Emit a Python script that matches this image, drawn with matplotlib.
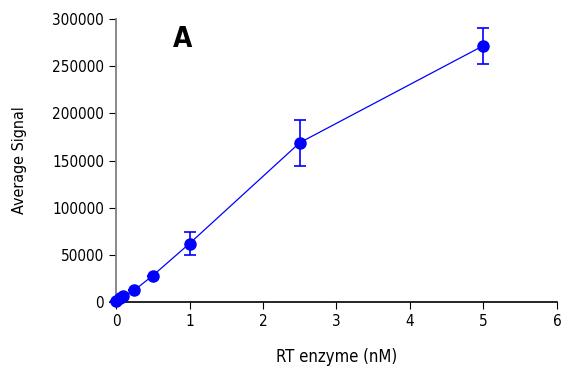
import matplotlib.pyplot as plt
import numpy as np

# RT enzyme concentration (nM) vs average signal
conc = [0, 0.05, 0.1, 0.25, 0.5, 1, 2.5, 5]
signal = [1500, 4500, 6000, 12500, 28000, 62000, 169000, 272000]
err = [0, 0, 0, 0, 0, 12500, 24500, 19000]

xticks = [0, 1, 2, 3, 4, 5, 6]
yticks = [0, 50000, 100000, 150000, 200000, 250000, 300000]

plt.rcParams['font.family'] = ['DejaVu Sans']
plt.rcParams['font.stretch'] = 'condensed'

fig = plt.figure(figsize=(5.61, 3.75), dpi=100)
ax = fig.add_axes([0.2068, 0.1947, 0.786, 0.754])

ax.errorbar(conc, signal, yerr=err, color='#0000ff', marker='o', markersize=8,
            linewidth=0.9, elinewidth=1.2, capsize=4, capthick=1.2, clip_on=False, zorder=3)

ax.set_xlim(0, 6)
ax.set_ylim(0, 300000)
ax.set_xticks(xticks)
ax.set_yticks(yticks)
ax.tick_params(labelsize=11, length=5)

for s in ['top', 'right']:
    ax.spines[s].set_visible(False)
ax.spines['left'].set_color('#808080')
ax.spines['left'].set_linewidth(1.3)
ax.spines['bottom'].set_color('black')
ax.spines['bottom'].set_linewidth(1.2)
ax.spines['bottom'].set_bounds(-0.08, 6)
ax.tick_params(axis='y', colors='black')

ax.set_xlabel("RT enzyme (nM)", fontsize=12, labelpad=14)
ax.set_ylabel("Average Signal", fontsize=11.5, labelpad=18)
ax.text(0.9, 294000, "A", fontsize=20, fontweight='bold', ha='center', va='top')

fig.savefig("out.png", dpi=100)
